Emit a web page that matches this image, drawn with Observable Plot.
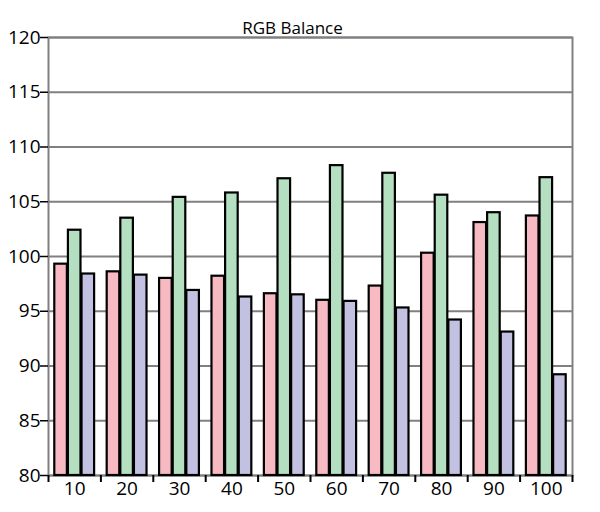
<!DOCTYPE html>
<html>
<head>
<meta charset="utf-8">
<script src="https://cdn.jsdelivr.net/npm/d3@7"></script>
<script src="https://cdn.jsdelivr.net/npm/@observablehq/plot@0.6"></script>
<style>
  body { margin: 0; background: #fff; }
</style>
</head>
<body>
<div id="chart"></div>
<script>
const title = "RGB Balance";
const categories = ["10", "20", "30", "40", "50", "60", "70", "80", "90", "100"];
const red   = [99.3, 98.6, 98.0, 98.2, 96.6, 96.0, 97.3, 100.3, 103.1, 103.7];
const green = [102.4, 103.5, 105.4, 105.8, 107.1, 108.3, 107.6, 105.6, 104.0, 107.2];
const blue  = [98.4, 98.3, 96.9, 96.3, 96.5, 95.9, 95.3, 94.2, 93.1, 89.2];
const yTicks = [80, 85, 90, 95, 100, 105, 110, 115, 120];
const seriesNames = ["R", "G", "B"];
const seriesColors = ["#f8bac2", "#b5dfc1", "#c2c1e2"];

const seriesValues = [red, green, blue];
const slot = 0.26, half = 0.12;
const table = [];
categories.forEach((c, i) => {
  seriesValues.forEach((vals, s) => {
    const center = i + 1 + (s - 1) * slot;
    table.push({cat: c, series: seriesNames[s], value: vals[i], x1: center - half, x2: center + half});
  });
});
const catIdx = categories.map((c, i) => i + 1);
const bounds = d3.range(0, categories.length + 1).map(i => i + 0.5);

const chart = Plot.plot({
  width: 600,
  height: 512,
  marginLeft: 48,
  marginRight: 28,
  marginTop: 37,
  marginBottom: 37,
  style: {fontFamily: "'Open Sans', sans-serif", fontSize: "18px", color: "#000", background: "#fff"},
  x: {domain: [0.5, categories.length + 0.5]},
  y: {domain: [yTicks[0], yTicks[yTicks.length - 1]]},
  color: {domain: seriesNames, range: seriesColors},
  marks: [
    Plot.gridY(yTicks, {stroke: "#808080", strokeOpacity: 1, strokeWidth: 2}),
    Plot.frame({stroke: "#808080", strokeWidth: 2}),
    Plot.rectY(table, {
      x1: "x1", x2: "x2", y1: yTicks[0], y2: "value",
      fill: "series", stroke: "#000", strokeWidth: 2.2
    }),
    Plot.axisY(yTicks, {tickSize: 8, tickPadding: 0, label: null, stroke: "#000", strokeWidth: 1.5, fontSize: 19}),
    Plot.axisX(catIdx, {tickSize: 0, tickPadding: 6, tickFormat: i => categories[i - 1], label: null, fontSize: 19}),
    Plot.axisX(bounds, {tickSize: 7, tickFormat: () => "", label: null, stroke: "#000", strokeWidth: 2}),
    Plot.text([title], {frameAnchor: "top", dy: -16, fontSize: 17, fill: "#000", dx: -18})
  ]
});
document.getElementById("chart").append(chart);
</script>
</body>
</html>
